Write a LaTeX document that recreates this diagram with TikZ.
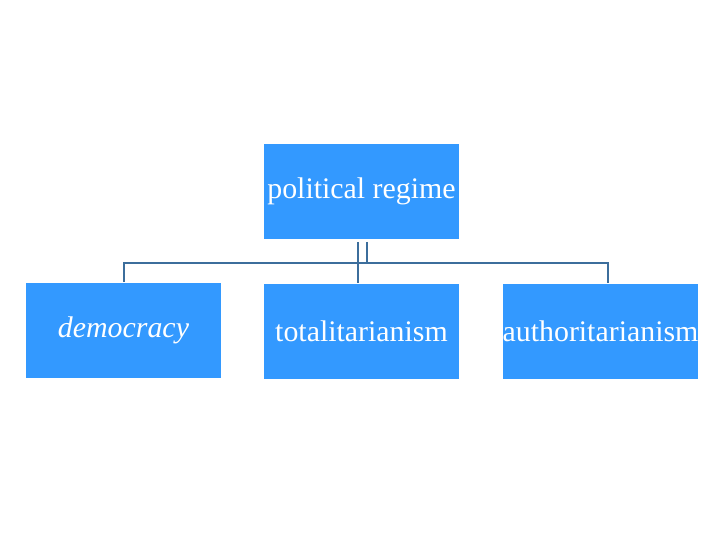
\documentclass[tikz,border=0pt]{standalone}
\usepackage{fontspec}
\setmainfont{Liberation Serif}
\begin{document}
\begin{tikzpicture}[x=0.02cm,y=-0.02cm,
  box/.style={fill={rgb,255:red,51;green,153;blue,255},draw=none,minimum width=3.9cm,minimum height=1.92cm,text=white,font=\fontsize{17}{20}\selectfont,inner sep=0pt},
  conn/.style={draw={rgb,255:red,60;green,110;blue,156},line width=1.3pt}]
\useasboundingbox (0,0) rectangle (720,540);
\node[box] (top) at (361.5,191.5) {political regime};
\node[box] (d) at (123.5,330.5) {\itshape democracy};
\node[box] (t) at (361.5,331.5) {totalitarianism};
\node[box] (a) at (600.5,331.5) {authoritarianism};
\coordinate (j1) at (358,242);
\coordinate (j2) at (367,242);
\coordinate (hl) at (124,263);
\coordinate (hr) at (608,263);
\draw[conn] (j2) -- (j2 |- hl);
\draw[conn] (j1) -- (j1 |- t.north);
\draw[conn] (d.north -| hl) -- (hl) -- (hr) -- (a.north -| hr);
\end{tikzpicture}
\end{document}
